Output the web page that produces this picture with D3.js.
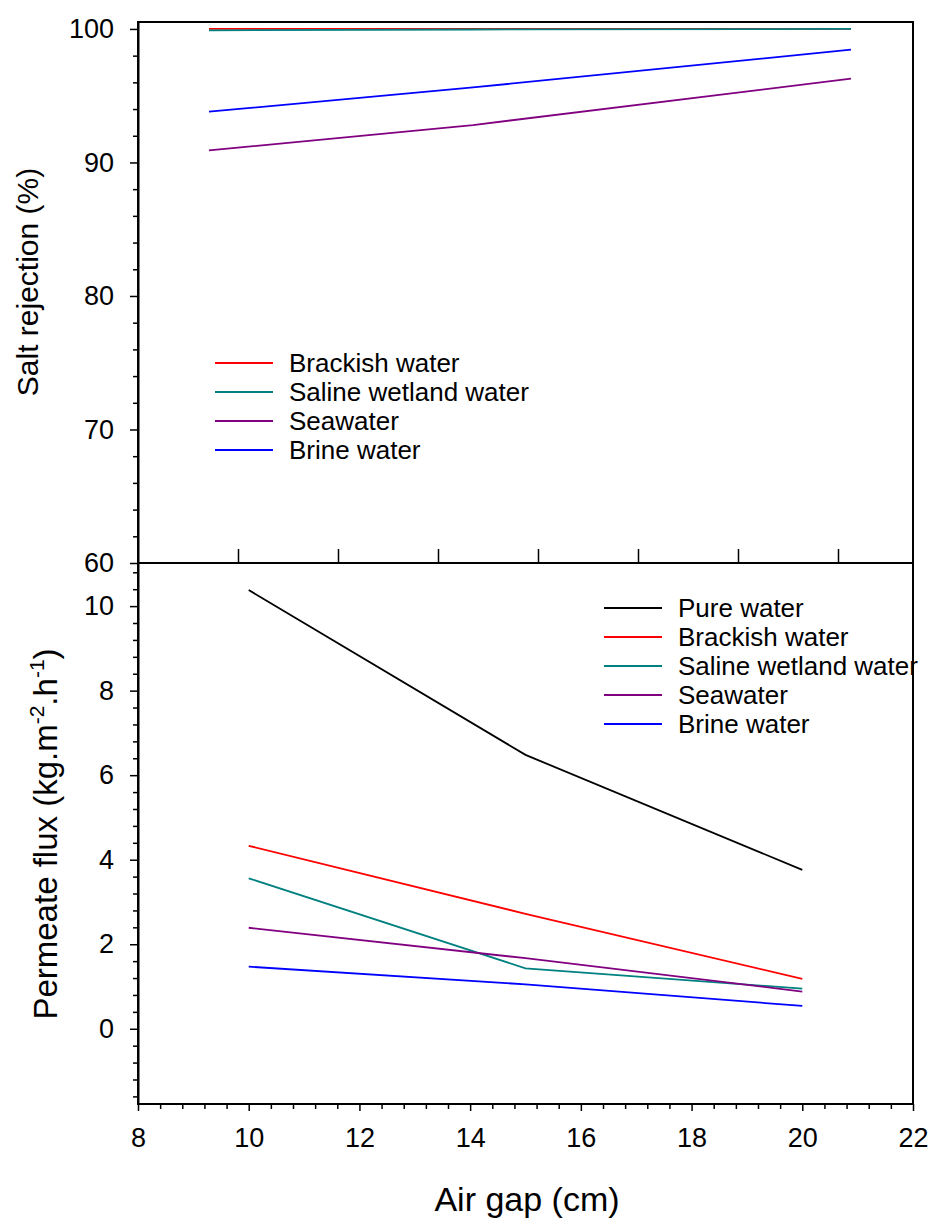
<!DOCTYPE html>
<html>
<head>
<meta charset="utf-8">
<script src="https://cdn.jsdelivr.net/npm/d3@7"></script>
<style>
  body { margin: 0; background: #fff; }
  svg { display: block; font-family: 'Liberation Sans', Arial, sans-serif; }
</style>
</head>
<body>
<div id="chart"></div>
<script>
// Données
const airGap = [10, 15, 20];
const pureFlux = [10.38, 6.48, 3.76];
const brackishFlux = [4.33, 2.72, 1.18];
const salineFlux = [3.56, 1.43, 0.95];
const seaFlux = [2.39, 1.67, 0.88];
const brineFlux = [1.47, 1.05, 0.54];

// le panneau du haut a sa propre échelle en x (sans étiquettes)
const rejectionGap = [9.42, 14.7, 22.26];
const brackishRejection = [100, 100, 100];
const salineRejection = [99.9, 99.96, 100];
const seaRejection = [90.9, 92.8, 96.28];
const brineRejection = [93.8, 95.62, 98.45];

const gapTicks = [8, 10, 12, 14, 16, 18, 20, 22];
const topGapTicks = [10, 12, 14, 16, 18, 20, 22];
const fluxTicks = [0, 2, 4, 6, 8, 10];
const rejectionTicks = [60, 70, 80, 90, 100];

const seriesNames = ['Pure water', 'Brackish water', 'Saline wetland water', 'Seawater', 'Brine water'];
const seriesColors = ['#000000', '#ff0000', '#008080', '#800080', '#0000ff'];

const config = {
  width: 933,
  height: 1218,
  left: 138,
  right: 913,
  top: {y0: 22, y1: 563},
  bottom: {y0: 563, y1: 1104}
}

const svg = d3.select('#chart').append('svg')
  .attr('width', config.width)
  .attr('height', config.height);

// Échelles
const xTop = d3.scaleLinear().domain([8, 23.5]).range([config.left, config.right]);
const yTop = d3.scaleLinear().domain([60, 100.52]).range([config.top.y1, config.top.y0]);
const xBottom = d3.scaleLinear().domain([8, 22]).range([config.left, config.right]);
const yBottom = d3.scaleLinear().domain([-1.78, 11.02]).range([config.bottom.y1, config.bottom.y0]);

const line = (xs, ys, xScale, yScale) => d3.line()
  .x((d, i) => xScale(xs[i]))
  .y(d => yScale(d))(ys);

function drawFrame (y0, y1) {
  svg.append('rect')
    .attr('x', config.left)
    .attr('y', y0)
    .attr('width', config.right - config.left)
    .attr('height', y1 - y0)
    .attr('fill', 'none')
    .attr('stroke', '#000')
    .attr('stroke-width', 2);
}

function drawLeftAxis (yScale, majors, minors) {
  svg.append('g')
    .attr('transform', `translate(${config.left},0)`)
    .call(d3.axisLeft(yScale).tickValues(minors).tickSize(5).tickFormat(''))
    .call(g => g.select('.domain').remove())
    .selectAll('line').attr('stroke-width', 1.5);
  const ax = svg.append('g')
    .attr('transform', `translate(${config.left},0)`)
    .call(d3.axisLeft(yScale).tickValues(majors).tickSize(8).tickPadding(16).tickSizeOuter(0));
  ax.select('.domain').attr('stroke-width', 2);
  ax.selectAll('line').attr('stroke-width', 1.5);
  ax.selectAll('text').attr('font-size', 27).attr('fill', '#000').attr('font-family', "'Liberation Sans', Arial, sans-serif");
}

function drawLines (xs, seriesList, colors, xScale, yScale) {
  svg.append('g').selectAll('path')
    .data(seriesList)
    .enter()
    .append('path')
    .attr('d', d => line(xs, d, xScale, yScale))
    .attr('fill', 'none')
    .attr('stroke', (d, i) => colors[i])
    .attr('stroke-width', 1.8);
}

function drawLegend (names, colors, x, y) {
  const leg = svg.append('g').attr('transform', `translate(${x},${y})`);
  names.forEach((n, i) => {
    leg.append('line')
      .attr('x1', 0).attr('x2', 58)
      .attr('y1', i * 29).attr('y2', i * 29)
      .attr('stroke', colors[i])
      .attr('stroke-width', 1.8);
    leg.append('text')
      .attr('x', 74)
      .attr('y', i * 29)
      .attr('dy', '0.35em')
      .attr('font-size', 26)
      .text(n);
  });
}

// Panneau du haut : rejet de sel
const topMinors = d3.range(62, 100.1, 2).filter(v => v % 10 !== 0);
drawLeftAxis(yTop, rejectionTicks, topMinors);
svg.append('g')
  .attr('transform', `translate(0,${config.top.y1})`)
  .call(d3.axisTop(xTop).tickValues(topGapTicks).tickSize(14).tickFormat(''))
  .call(g => g.select('.domain').remove())
  .selectAll('line').attr('stroke-width', 1.5);

drawLines(rejectionGap,
  [brackishRejection, salineRejection, seaRejection, brineRejection],
  seriesColors.slice(1), xTop, yTop);
drawLegend(seriesNames.slice(1), seriesColors.slice(1), 215, 363);

// Panneau du bas : flux de perméat
const fluxMinors = d3.range(-1.6, 10.9, 0.4).map(v => +v.toFixed(1)).filter(v => Math.abs(v % 2) > 0.01);
drawLeftAxis(yBottom, fluxTicks, fluxMinors);

const gapMinors = d3.range(8, 22.01, 0.4).map(v => +v.toFixed(1)).filter(v => Math.abs(v % 2) > 0.01);
svg.append('g')
  .attr('transform', `translate(0,${config.bottom.y1})`)
  .call(d3.axisBottom(xBottom).tickValues(gapMinors).tickSize(5).tickFormat(''))
  .call(g => g.select('.domain').remove())
  .selectAll('line').attr('stroke-width', 1.5);
const xAx = svg.append('g')
  .attr('transform', `translate(0,${config.bottom.y1})`)
  .call(d3.axisBottom(xBottom).tickValues(gapTicks).tickSize(7).tickPadding(17).tickSizeOuter(0));
xAx.selectAll('line').attr('stroke-width', 1.5);
xAx.selectAll('text').attr('font-size', 27).attr('fill', '#000').attr('font-family', "'Liberation Sans', Arial, sans-serif");

drawLines(airGap,
  [pureFlux, brackishFlux, salineFlux, seaFlux, brineFlux],
  seriesColors, xBottom, yBottom);
drawLegend(seriesNames, seriesColors, 604, 608);

drawFrame(config.top.y0, config.top.y1);
drawFrame(config.bottom.y0, config.bottom.y1);

// Titres des axes
svg.append('text')
  .attr('transform', 'translate(38,282) rotate(-90)')
  .attr('text-anchor', 'middle')
  .attr('font-size', 30)
  .text('Salt rejection (%)');

const yt = svg.append('text')
  .attr('transform', 'translate(57,834) rotate(-90)')
  .attr('text-anchor', 'middle')
  .attr('font-size', 33);
yt.append('tspan').text('Permeate flux (kg.m');
yt.append('tspan').attr('font-size', 21).attr('dy', -13).text('-2');
yt.append('tspan').attr('dy', 13).text('.h');
yt.append('tspan').attr('font-size', 21).attr('dy', -13).text('-1');
yt.append('tspan').attr('dy', 13).text(')');

svg.append('text')
  .attr('x', 527)
  .attr('y', 1211)
  .attr('text-anchor', 'middle')
  .attr('font-size', 34)
  .text('Air gap (cm)');
</script>
</body>
</html>
